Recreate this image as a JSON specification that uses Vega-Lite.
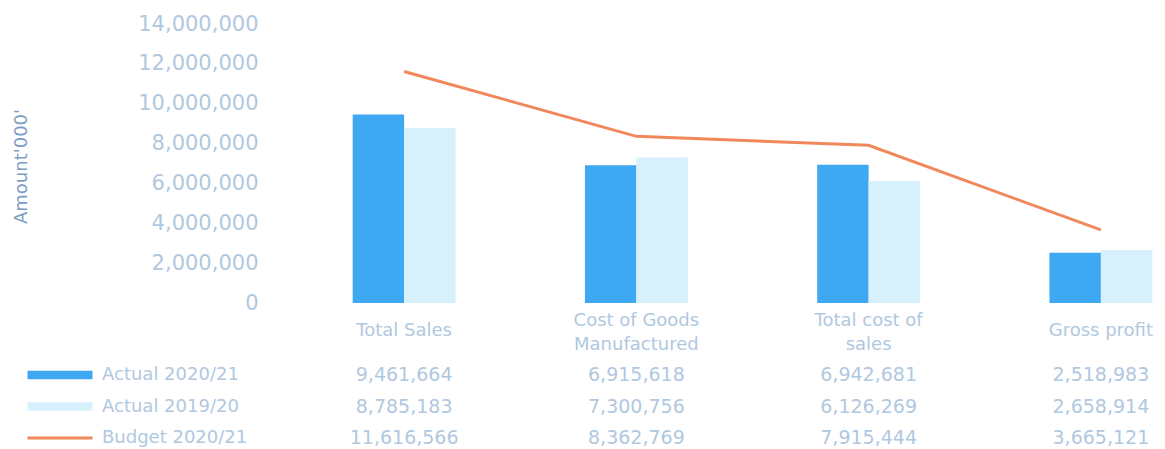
{
  "$schema": "https://vega.github.io/schema/vega-lite/v6.json",
  "width": 877,
  "height": 279,
  "autosize": {"type": "none"},
  "padding": {"left": 288, "top": 24, "right": 0, "bottom": 146},
  "background": "white",
  "config": {"view": {"stroke": null}, "font": "DejaVu Sans"},
  "data": {
    "values": [
      {"category": "Total Sales", "series": "Actual 2020/21", "value": 9461664},
      {"category": "Total Sales", "series": "Actual 2019/20", "value": 8785183},
      {"category": "Total Sales", "series": "Budget 2020/21", "value": 11616566},
      {"category": "Cost of Goods|Manufactured", "series": "Actual 2020/21", "value": 6915618},
      {"category": "Cost of Goods|Manufactured", "series": "Actual 2019/20", "value": 7300756},
      {"category": "Cost of Goods|Manufactured", "series": "Budget 2020/21", "value": 8362769},
      {"category": "Total cost of|sales", "series": "Actual 2020/21", "value": 6942681},
      {"category": "Total cost of|sales", "series": "Actual 2019/20", "value": 6126269},
      {"category": "Total cost of|sales", "series": "Budget 2020/21", "value": 7915444},
      {"category": "Gross profit", "series": "Actual 2020/21", "value": 2518983},
      {"category": "Gross profit", "series": "Actual 2019/20", "value": 2658914},
      {"category": "Gross profit", "series": "Budget 2020/21", "value": 3665121}
    ]
  },
  "encoding": {
    "x": {
      "field": "category", "type": "nominal",
      "sort": ["Total Sales", "Cost of Goods|Manufactured", "Total cost of|sales", "Gross profit"],
      "scale": {"range": [0, 929], "paddingInner": 0.557, "paddingOuter": 0.2785},
      "axis": {
        "title": null, "domain": false, "ticks": false, "labelAngle": 0,
        "labelExpr": "split(datum.label, '|')",
        "labelFont": "DejaVu Sans", "labelFontSize": 18,
        "labelColor": "#b0c8e0", "labelLineHeight": 24,
        "labelPadding": {"condition": {"test": "indexof(datum.value, '|') >= 0", "value": 17}, "value": 27},
        "labelBaseline": "middle", "labelOverlap": false
      }
    }
  },
  "layer": [
    {
      "encoding": {
        "y": {
          "field": "value", "type": "quantitative",
          "scale": {"domain": [0, 14000000], "nice": false},
          "axis": {
            "title": "Amount'000'",
            "values": [0, 2000000, 4000000, 6000000, 8000000, 10000000, 12000000, 14000000],
            "labelExpr": "format(datum.value, ',')", "domain": false, "ticks": false, "grid": false,
            "labelPadding": 30, "labelFont": "DejaVu Sans", "labelFontSize": 21,
            "labelColor": "#b0c8e0",
            "titleColor": "#7b9cc4", "titleFont": "DejaVu Sans", "titleFontSize": 18, "titleFontWeight": "normal",
            "titleX": -267, "titleY": 142, "titleAngle": 270, "titleAlign": "center", "titleBaseline": "middle"
          }
        },
        "color": {
          "field": "series", "type": "nominal",
          "scale": {"domain": ["Actual 2020/21", "Actual 2019/20", "Budget 2020/21"], "range": ["#3ea8f2", "#d6f1fb", "#f0885c"]},
          "legend": {
            "title": null, "orient": "none", "legendX": -239, "legendY": 340, "direction": "vertical",
            "symbolSize": 469, "symbolType": "M-3,-0.39H3V0.39H-3Z",
            "labelFont": "DejaVu Sans", "labelFontSize": 18, "labelColor": "#b0c8e0",
            "labelOffset": 31, "rowPadding": 11.5,
            "encode": {
              "symbols": {
                "update": {
                  "shape": {"signal": "datum.value === 'Budget 2020/21' ? 'M-3,-0.13H3V0.13H-3Z' : 'M-3,-0.39H3V0.39H-3Z'"},
                  "fill": {"signal": "scale('color', datum.value)"},
                  "strokeWidth": {"value": 0},
                  "opacity": {"value": 1}
                }
              }
            }
          }
        }
      },
      "layer": [
        {
          "transform": [{"filter": "datum.series !== 'Budget 2020/21'"}],
          "mark": {"type": "bar"},
          "encoding": {
            "xOffset": {"field": "series", "type": "nominal", "sort": ["Actual 2020/21", "Actual 2019/20"]}
          }
        },
        {
          "transform": [{"filter": "datum.series === 'Budget 2020/21'"}],
          "mark": {"type": "line", "strokeWidth": 3}
        }
      ]
    },
    {
      "mark": {"type": "text", "fontSize": 19, "color": "#b0c8e0", "baseline": "middle", "font": "DejaVu Sans"},
      "encoding": {
        "y": {"field": "series", "type": "nominal", "sort": ["Actual 2020/21", "Actual 2019/20", "Budget 2020/21"], "scale": {"type": "point", "range": [351, 414], "padding": 0}, "axis": null},
        "text": {"field": "value", "type": "quantitative", "format": ","}
      }
    }
  ],
  "resolve": {"scale": {"y": "independent"}}
}
